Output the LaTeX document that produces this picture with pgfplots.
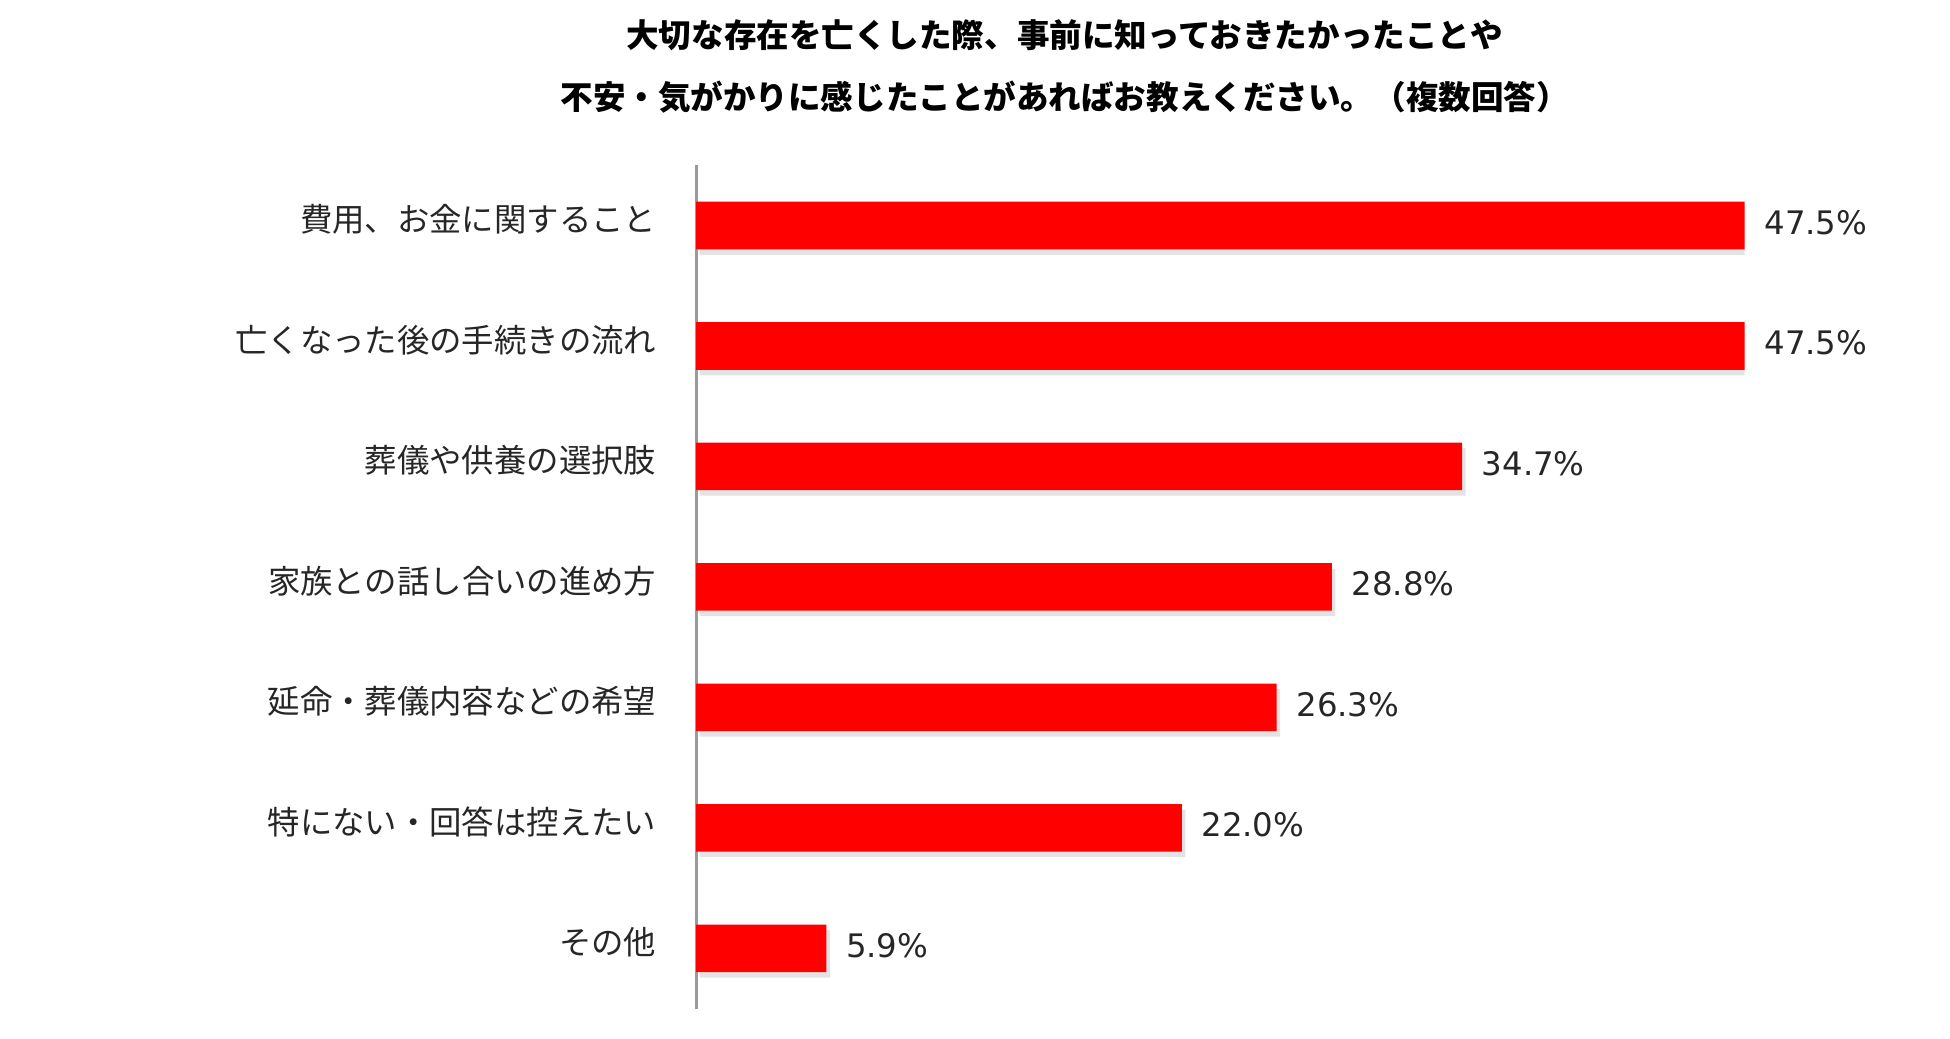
\documentclass[border=0pt]{standalone}
\usepackage{fontspec}
\usepackage{pgfplots}
\pgfplotsset{compat=1.18}
\usetikzlibrary{shadows}
\newfontfamily\cjk{Noto Sans CJK JP}
\newfontfamily\valfont{DejaVu Sans}
\definecolor{barred}{HTML}{FF0000}
\definecolor{axgray}{HTML}{9A9A9A}

\begin{document}
\begin{tikzpicture}
\begin{axis}[
    name=ax,
    xbar,
    scale only axis,
    width=104.7mm,
    height=84.2mm,
    xmin=0, xmax=47.5,
    ymin=-0.5, ymax=6.5,
    y dir=reverse,
    axis x line=none,
    axis y line*=left,
    y axis line style={axgray, line width=0.3mm},
    ytick={0,...,6},
    yticklabels={費用、お金に関すること, 亡くなった後の手続きの流れ, 葬儀や供養の選択肢,
        家族との話し合いの進め方, 延命・葬儀内容などの希望, 特にない・回答は控えたい, その他},
    major tick length=0pt,
    yticklabel style={font=\cjk\fontsize{9.2}{11}\selectfont, inner sep=0pt,
        xshift=-3.9mm, yshift=0.6mm, text=black!85},
    bar width=4.75mm,
    point meta=x,
    /pgf/number format/assume math mode=true,
    nodes near coords={\pgfmathprintnumber[fixed,fixed zerofill,precision=1]{\pgfplotspointmeta}\%},
    nodes near coords style={font=\valfont\fontsize{9.2}{11}\selectfont, text=black!85,
        anchor=west, inner sep=0pt, xshift=1.9mm, yshift=0.3mm},
]

% share of respondents (%)
\addplot[fill=barred, draw=none,
    drop shadow={shadow xshift=0.35mm, shadow yshift=-0.55mm, opacity=0.22}] coordinates {
    (47.5,0)
    (47.5,1)
    (34.7,2)
    (28.8,3)
    (26.3,4)
    (22.0,5)
    (5.9,6)
};

\end{axis}

% title, two lines
\node[font=\cjk\bfseries\fontsize{9.25}{11}\selectfont] at ([shift={(36.8mm,13mm)}]ax.north west)
    {大切な存在を亡くした際、事前に知っておきたかったことや};
\node[font=\cjk\bfseries\fontsize{9.25}{11}\selectfont] at ([shift={(36.8mm,6.8mm)}]ax.north west)
    {不安・気がかりに感じたことがあればお教えください。（複数回答）};

\path ([shift={(-69.5mm,-3mm)}]ax.south west) rectangle ([shift={(20.5mm,16.5mm)}]ax.north east);
\end{tikzpicture}
\end{document}
